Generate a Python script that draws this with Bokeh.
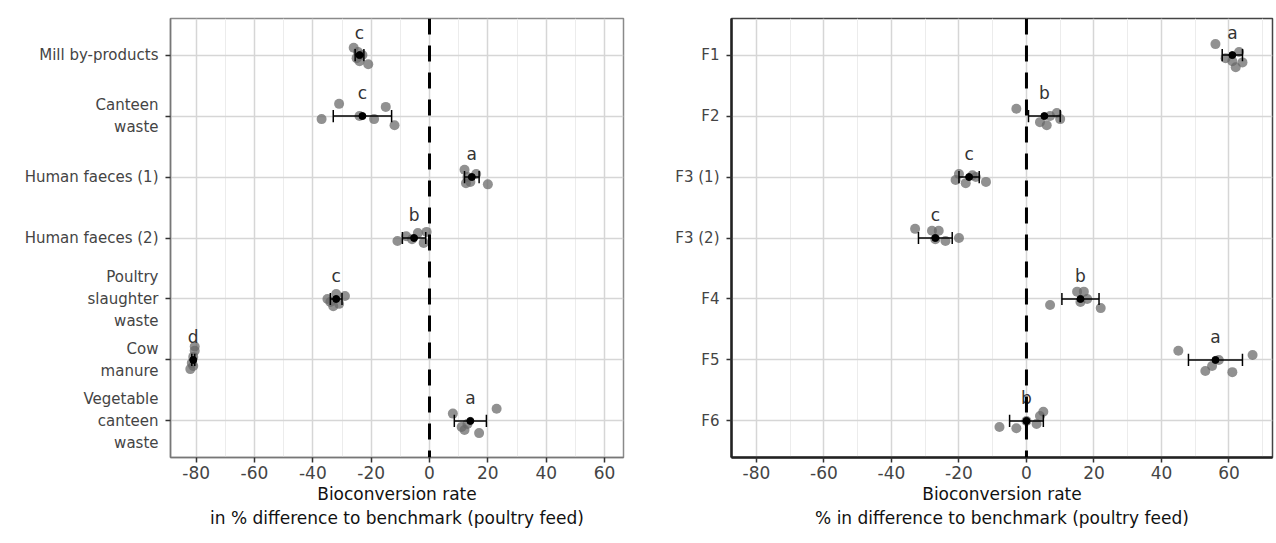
from bokeh.plotting import figure
from bokeh.layouts import row
from bokeh.models import Range1d, FixedTicker, Span
from bokeh.embed import file_html
from bokeh.resources import INLINE
from bokeh.core.properties import value

FONT = "DejaVu Sans"

# ---------------- data: left panel (substrates) ----------------
left_categories = ["Mill by-products", "Canteen\nwaste", "Human faeces (1)", "Human faeces (2)",
                   "Poultry\nslaughter\nwaste", "Cow\nmanure", "Vegetable\ncanteen\nwaste"]
left_values = [
    [-26, -25, -24.5, -24, -23, -21],
    [-37, -31, -24, -19, -15, -12],
    [12, 12.5, 13, 14, 16, 20],
    [-11, -8, -6, -4, -2, -1],
    [-35, -34, -33, -32, -31, -29],
    [-82, -81.5, -81, -81, -80.5, -80.5],
    [8, 11, 12, 17, 23, 13],
]
left_jitter = [
    [-0.12, 0.05, -0.05, 0.10, 0.00, 0.15],
    [0.05, -0.20, 0.00, 0.05, -0.15, 0.15],
    [-0.12, 0.10, 0.00, 0.08, -0.05, 0.12],
    [0.05, -0.03, 0.02, -0.08, 0.08, -0.10],
    [0.00, 0.05, 0.12, -0.08, 0.08, -0.05],
    [0.15, 0.05, -0.05, 0.10, -0.15, -0.22],
    [-0.12, 0.10, 0.15, 0.20, -0.20, 0.05],
]
left_means = [-24, -23, 14.5, -5.3, -32, -81, 14]
left_errors = [1.5, 10, 2.5, 4, 2, 0.5, 5.5]
left_letters = ["c", "c", "a", "b", "c", "d", "a"]

# ---------------- data: right panel (feeds) ----------------
right_categories = ["F1", "F2", "F3 (1)", "F3 (2)", "F4", "F5", "F6"]
right_values = [
    [56, 59, 61, 62, 63, 64],
    [-3, 4, 6, 7, 9, 10],
    [-21, -20, -18, -16, -15, -12],
    [-33, -28, -27, -26, -24, -20],
    [7, 15, 16, 17, 18, 22],
    [45, 53, 55, 57, 61, 67],
    [-8, -3, 0, 3, 4, 5],
]
right_jitter = [
    [-0.18, 0.05, 0.10, 0.20, -0.05, 0.12],
    [-0.12, 0.10, 0.15, 0.00, -0.05, 0.05],
    [0.05, -0.05, 0.10, -0.03, 0.00, 0.08],
    [-0.15, -0.12, 0.02, -0.12, 0.05, 0.00],
    [0.10, -0.12, 0.05, -0.12, 0.00, 0.15],
    [-0.15, 0.18, 0.10, 0.00, 0.20, -0.08],
    [0.10, 0.12, 0.00, 0.05, -0.08, -0.15],
]
right_means = [61, 5.3, -17, -27, 16, 56, 0]
right_errors = [3, 4.7, 3, 5, 5.5, 8, 5]
right_letters = ["a", "b", "c", "c", "b", "a", "b"]

x_ticks = [-80, -60, -40, -20, 0, 20, 40, 60]
x_tick_labels = ["-80", "-60", "-40", "-20", "0", "20", "40", "60"]
x_minor = [-90, -70, -50, -30, -10, 10, 30, 50, 70]


def make_panel(categories, values, jitter, means, errors, letters, xr, xlabel,
               border_left, border_top, frame_w, frame_h, border_right, border_bottom,
               outline_color, axis_color, axis_width):
    n = len(categories)
    p = figure(output_backend="svg", toolbar_location=None,
               frame_width=frame_w, frame_height=frame_h,
               min_border_left=border_left, min_border_right=border_right,
               min_border_top=border_top, min_border_bottom=border_bottom,
               x_range=Range1d(*xr), y_range=Range1d(n + 0.6, 0.4))
    p.background_fill_color = "white"
    p.border_fill_color = "white"
    p.outline_line_color = outline_color
    p.outline_line_width = 1.5

    # axes
    p.xaxis.ticker = FixedTicker(ticks=x_ticks, minor_ticks=x_minor)
    p.xaxis.major_label_overrides = dict(zip(x_ticks, x_tick_labels))
    p.yaxis.ticker = FixedTicker(ticks=list(range(1, n + 1)))
    p.yaxis.major_label_overrides = {i + 1: c for i, c in enumerate(categories)}
    for ax in (p.xaxis, p.yaxis):
        ax.axis_line_color = axis_color
        ax.axis_line_width = axis_width
        ax.major_tick_line_color = "#333333"
        ax.major_tick_line_width = 1.5
        ax.major_tick_out = 5
        ax.major_tick_in = 0
        ax.minor_tick_line_color = None
        ax.major_label_text_font = FONT
        ax.major_label_text_color = "#444444"
    p.xaxis.major_label_text_font_size = "17px"
    p.yaxis.major_label_text_font_size = "15px"
    p.yaxis.major_label_standoff = 7
    p.xaxis.major_label_standoff = 3
    p.xaxis.axis_label = xlabel
    p.xaxis.axis_label_text_font = FONT
    p.xaxis.axis_label_text_font_size = "17px"
    p.xaxis.axis_label_text_font_style = "normal"
    p.xaxis.axis_label_text_color = "#111111"
    p.xaxis.axis_label_standoff = 2

    # grid
    p.xgrid.grid_line_color = "#d6d6d6"
    p.xgrid.grid_line_width = 1.5
    p.xgrid.minor_grid_line_color = "#ececec"
    p.xgrid.minor_grid_line_width = 1
    p.ygrid.grid_line_color = "#d6d6d6"
    p.ygrid.grid_line_width = 1.5

    # dashed reference line at 0
    p.add_layout(Span(location=0, dimension="height", line_color="black",
                      line_width=3, line_dash="16 11"))

    # individual points
    xs, ys = [], []
    for i, (vals, jit) in enumerate(zip(values, jitter)):
        for v, d in zip(vals, jit):
            xs.append(v)
            ys.append(i + 1 + d)
    p.scatter(xs, ys, size=10, fill_color="#666666", fill_alpha=0.72, line_color=None)

    cats = [i + 1 for i in range(n)]
    lo = [m - e for m, e in zip(means, errors)]
    hi = [m + e for m, e in zip(means, errors)]
    p.segment(x0=lo, x1=hi, y0=cats, y1=cats, line_color="black", line_width=1.5)
    cap_lo = [c - 0.1 for c in cats]
    cap_hi = [c + 0.1 for c in cats]
    p.segment(x0=lo, x1=lo, y0=cap_lo, y1=cap_hi, line_color="black", line_width=1.5)
    p.segment(x0=hi, x1=hi, y0=cap_lo, y1=cap_hi, line_color="black", line_width=1.5)
    p.scatter(means, cats, size=7, fill_color="black", line_color="black")

    # significance letters
    p.text(x=means, y=[c - 0.37 for c in cats], text=letters,
           text_align="center", text_baseline="middle",
           text_font=value(FONT), text_font_size="17px", text_color="#333333")
    return p


left = make_panel(left_categories, left_values, left_jitter, left_means, left_errors,
                  left_letters, (-88.8, 66.5),
                  "Bioconversion rate\nin % difference to benchmark (poultry feed)",
                  170, 16, 453, 439, 17, 80, "#8a8a8a", "#777777", 1.5)
right = make_panel(right_categories, right_values, right_jitter, right_means, right_errors,
                   right_letters, (-87.4, 72.9),
                   "Bioconversion rate\n% in difference to benchmark (poultry feed)",
                   91, 18, 541, 439, 2, 78, "#444444", "#222222", 2.5)

layout = row(left, right)
open("out.html", "w").write(file_html(layout, INLINE))
